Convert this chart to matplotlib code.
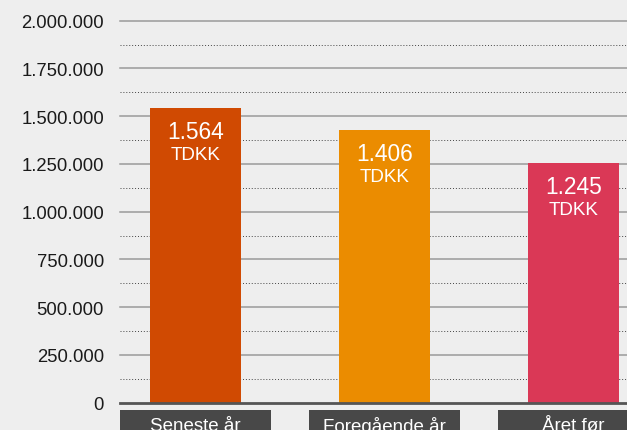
import matplotlib
matplotlib.use("Agg")
import matplotlib.pyplot as plt
from matplotlib.patches import Rectangle
from matplotlib.transforms import blended_transform_factory

# data
categories = ["Seneste år", "Foregående år", "Året før"]
values = [1543000, 1428000, 1255000]
value_labels = ["1.564", "1.406", "1.245"]
unit = "TDKK"
bar_colors = ["#D04A02", "#EB8C00", "#DA3856"]
yticks = [0, 250000, 500000, 750000, 1000000, 1250000, 1500000, 1750000, 2000000]
ytick_labels = ["0", "250.000", "500.000", "750.000", "1.000.000", "1.250.000",
                "1.500.000", "1.750.000", "2.000.000"]

plt.rcParams['font.family'] = ['Liberation Sans', 'DejaVu Sans']
bg = "#EEEEEE"

fig = plt.figure(figsize=(6.27, 4.31), dpi=100, facecolor=bg)
ax = fig.add_axes([120 / 627, 27.3 / 431, 1 - 120 / 627, (403.7 - 21.7) / 431])
ax.set_facecolor(bg)

x = list(range(len(categories)))
ax.bar(x, values, width=0.48, color=bar_colors, zorder=3)

ax.set_xlim(-0.4, 2.283)
ax.set_ylim(0, 2000000)

# solid major grid and dotted minor grid
for t in yticks[1:]:
    ax.axhline(t, color="#9A9A9A", lw=1.1, zorder=1, clip_on=False)
for i in range(len(yticks) - 1):
    ax.axhline((yticks[i] + yticks[i + 1]) / 2, color="#444444", lw=0.7,
               ls=(0, (1, 2)), zorder=1)
ax.axhline(0, color="#555555", lw=2, zorder=4, clip_on=False)

ax.set_yticks(yticks)
ax.set_yticklabels(ytick_labels, fontsize=13.3, color="#1A1A1A")
ax.tick_params(axis="y", length=0, pad=11.5)
ax.set_xticks([])
for s in ax.spines.values():
    s.set_visible(False)

# value labels inside bars
for i, v in enumerate(values):
    ax.annotate(value_labels[i], (i, v), xytext=(0, -23.5), textcoords="offset pixels",
                ha="center", va="center", color="white", fontsize=16.4, zorder=5)
    ax.annotate(unit, (i, v), xytext=(0, -47), textcoords="offset pixels",
                ha="center", va="center", color="white", fontsize=13.6, zorder=5)

# category boxes under the axis
trans = blended_transform_factory(ax.transData, fig.transFigure)
for i, c in enumerate(categories):
    ax.add_patch(Rectangle((i - 0.4, 0), 0.8, 20 / 431, transform=trans,
                           facecolor="#484848", edgecolor="none", clip_on=False))
    ax.text(i, 4 / 431, c, transform=trans, ha="center", va="center",
            color="white", fontsize=13.5, clip_on=False)

fig.savefig("out.png", dpi=100, facecolor=bg)
